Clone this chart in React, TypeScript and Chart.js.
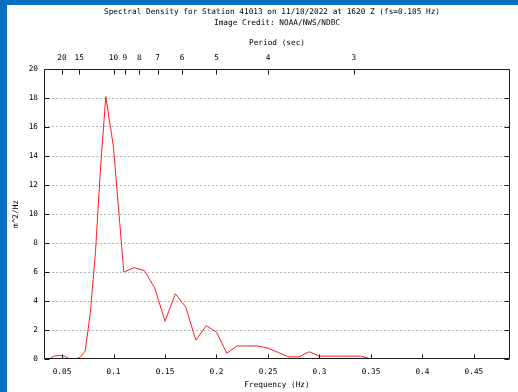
import React, { useEffect, useRef } from "react";
import { Chart, registerables } from "chart.js";

Chart.register(...registerables);

const TITLE_LINES = [
  "Spectral Density for Station 41013 on 11/10/2022 at 1620 Z (fs=0.105 Hz)",
  "Image Credit: NOAA/NWS/NDBC",
];
const X_TITLE = "Frequency (Hz)";
const X2_TITLE = "Period (sec)";
const Y_TITLE = "m^2/Hz";

const FREQ = [
  0.0375, 0.0425, 0.0475, 0.0525, 0.0575, 0.0625, 0.0675, 0.0725, 0.0775, 0.0825,
  0.0875, 0.0925, 0.1, 0.11, 0.12, 0.13, 0.14, 0.15, 0.16, 0.17, 0.18, 0.19, 0.2,
  0.21, 0.22, 0.23, 0.24, 0.25, 0.26, 0.27, 0.28, 0.29, 0.3, 0.31, 0.32, 0.33, 0.34,
  0.35,
];
const DENSITY = [
  0.0, 0.2, 0.25, 0.2, 0.0, 0.0, 0.1, 0.55, 3.2, 7.4,
  13.3, 18.1, 14.6, 6.0, 6.3, 6.1, 4.9, 2.6, 4.5, 3.6, 1.3, 2.3, 1.85,
  0.4, 0.9, 0.9, 0.9, 0.75, 0.45, 0.15, 0.15, 0.5, 0.2, 0.2, 0.2, 0.2, 0.2,
  0.0,
];

const X_MIN = 0.0325;
const X_MAX = 0.485;
const FREQ_TICKS = [0.05, 0.1, 0.15, 0.2, 0.25, 0.3, 0.35, 0.4, 0.45];
const PERIOD_TICKS = [20, 15, 10, 9, 8, 7, 6, 5, 4, 3];
const Y_MIN = 0;
const Y_MAX = 20;
const Y_STEP = 2;

const FONT_FAMILY = "'DejaVu Sans Mono', 'Liberation Mono', monospace";
const FONT_SIZE = 7.75;
const FONT = { family: FONT_FAMILY, size: FONT_SIZE };

const framePlugin = {
  id: "frame",
  afterDraw(chart: any) {
    const { ctx, chartArea } = chart;
    const { left, right, top, bottom } = chartArea;
    const x = chart.scales.x;
    const x2 = chart.scales.x2;
    const y = chart.scales.y;
    ctx.save();
    ctx.strokeStyle = "#1a1a1a";
    ctx.lineWidth = 1;
    ctx.setLineDash([]);
    ctx.beginPath();
    const L = Math.round(left) + 0.5;
    const R = Math.round(right) - 0.5;
    const T = Math.round(top) + 0.5;
    const B = Math.round(bottom) - 0.5;
    ctx.rect(L, T, R - L, B - T);
    for (let v = Y_MIN; v <= Y_MAX; v += Y_STEP) {
      const py = Math.round(y.getPixelForValue(v)) + 0.5;
      ctx.moveTo(L, py);
      ctx.lineTo(L + 5, py);
      ctx.moveTo(R, py);
      ctx.lineTo(R - 5, py);
    }
    FREQ_TICKS.forEach((f) => {
      const px = Math.round(x.getPixelForValue(f)) + 0.5;
      ctx.moveTo(px, B);
      ctx.lineTo(px, B - 4);
    });
    PERIOD_TICKS.forEach((p) => {
      const px = Math.round(x2.getPixelForValue(1 / p)) + 0.5;
      ctx.moveTo(px, T);
      ctx.lineTo(px, T + 5);
    });
    ctx.stroke();

    ctx.fillStyle = "#000";
    ctx.font = `${FONT_SIZE}px ${FONT_FAMILY}`;
    ctx.textAlign = "center";
    ctx.textBaseline = "middle";
    const cx = (left + right) / 2;
    ctx.fillText(TITLE_LINES[0], cx - 5, 6.5);
    ctx.fillText(TITLE_LINES[1], cx, 18);
    ctx.restore();
  },
};

export default function App() {
  const canvasRef = useRef<HTMLCanvasElement | null>(null);

  useEffect(() => {
    const canvas = canvasRef.current;
    if (!canvas) return;
    const points = FREQ.map((f, i) => ({ x: f, y: DENSITY[i] }));
    const chart = new Chart(canvas, {
      type: "line",
      data: {
        datasets: [
          {
            data: points,
            borderColor: "rgb(255,30,30)",
            borderWidth: 1,
            pointRadius: 0,
            tension: 0,
            fill: false,
          },
        ],
      },
      options: {
        animation: false,
        responsive: false,
        devicePixelRatio: 1,
        layout: { padding: { left: 0, top: 33, right: 8, bottom: 0 } },
        plugins: {
          legend: { display: false },
          title: { display: false },
          tooltip: { enabled: false },
        },
        scales: {
          x: {
            type: "linear",
            position: "bottom",
            min: X_MIN,
            max: X_MAX,
            afterBuildTicks: (s: any) => {
              s.ticks = FREQ_TICKS.map((v) => ({ value: v }));
            },
            afterFit: (s: any) => {
              s.height = 33;
            },
            ticks: {
              font: FONT,
              color: "#000",
              padding: 8,
              maxRotation: 0,
              autoSkip: false,
              callback: (v: any) => String(+Number(v).toFixed(3)),
            },
            grid: { display: false, drawTicks: false },
            border: { display: false },
            title: {
              display: true,
              text: X_TITLE,
              font: FONT,
              color: "#000",
              padding: { top: 0, bottom: 2 },
            },
          },
          x2: {
            type: "linear",
            axis: "x",
            position: "top",
            min: X_MIN,
            max: X_MAX,
            afterBuildTicks: (s: any) => {
              s.ticks = PERIOD_TICKS.map((p) => ({ value: 1 / p }));
            },
            afterFit: (s: any) => {
              s.height = 31;
            },
            ticks: {
              font: FONT,
              color: "#000",
              padding: 6,
              maxRotation: 0,
              autoSkip: false,
              callback: (_v: any, i: number) => String(PERIOD_TICKS[i]),
            },
            grid: { display: false, drawTicks: false },
            border: { display: false },
            title: {
              display: true,
              text: X2_TITLE,
              font: FONT,
              color: "#000",
              padding: { top: 0, bottom: 0 },
            },
          },
          y: {
            type: "linear",
            min: Y_MIN,
            max: Y_MAX,
            afterFit: (s: any) => {
              s.width = 37;
            },
            ticks: {
              stepSize: Y_STEP,
              font: FONT,
              color: "#000",
              padding: 6,
            },
            grid: {
              drawTicks: false,
              lineWidth: 1,
              color: (c: any) =>
                c.tick && (c.tick.value === Y_MIN || c.tick.value === Y_MAX)
                  ? "rgba(0,0,0,0)"
                  : "#b4b4b4",
            },
            border: { display: false, dash: [2, 2] },
            title: {
              display: true,
              text: Y_TITLE,
              font: FONT,
              color: "#000",
              padding: { top: 4, bottom: 0 },
            },
          },
        },
      } as any,
      plugins: [framePlugin],
    });
    return () => chart.destroy();
  }, []);

  return (
    <div
      style={{
        position: "fixed",
        left: 0,
        top: 0,
        width: 518,
        height: 392,
        background: "#0b6fc1",
        overflow: "hidden",
      }}
    >
      <canvas
        ref={canvasRef}
        width={511}
        height={387}
        style={{
          position: "absolute",
          left: 7,
          top: 5,
          width: 511,
          height: 387,
          background: "#fff",
        }}
      />
    </div>
  );
}
